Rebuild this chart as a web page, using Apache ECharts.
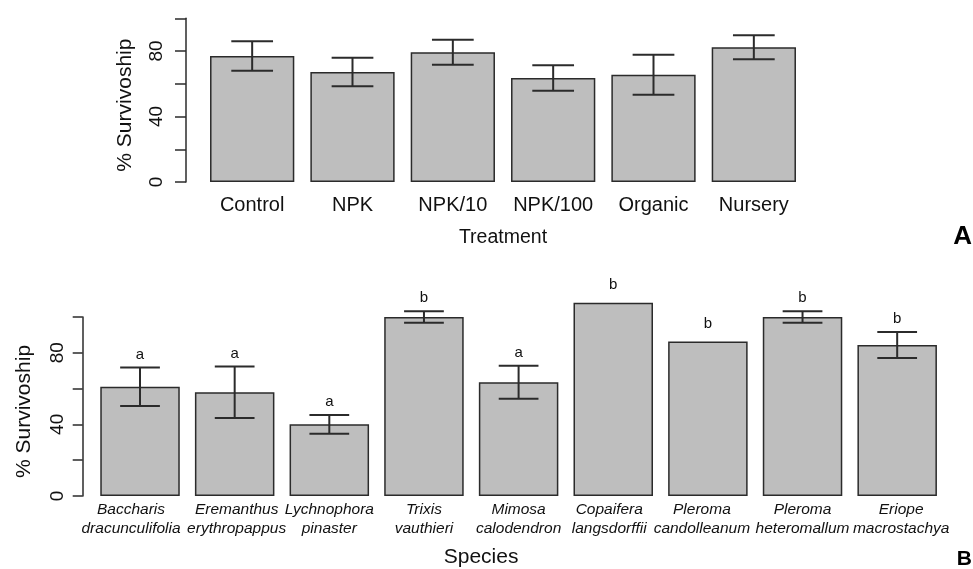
<!DOCTYPE html>
<html>
<head>
<meta charset="utf-8">
<script src="https://cdn.jsdelivr.net/npm/echarts@6/dist/echarts.min.js"></script>
<style>
html,body{margin:0;padding:0;background:#fff;}
#chart{width:973px;height:569px;}
</style>
</head>
<body>
<div id="chart"></div>
<script>
// ---- Panel A data ----
var treatments = ['Control', 'NPK', 'NPK/10', 'NPK/100', 'Organic', 'Nursery'];
var treatMeans = [77, 67.2, 79.2, 63.5, 65.5, 82.3];
var treatErr   = [9, 8.7, 7.6, 7.8, 12.2, 7.3];

// ---- Panel B data ----
var species = [
  'Baccharis\ndracunculifolia',
  'Eremanthus\nerythropappus',
  'Lychnophora\npinaster',
  'Trixis\nvauthieri',
  'Mimosa\ncalodendron',
  'Copaifera\nlangsdorffii',
  'Pleroma\ncandolleanum',
  'Pleroma\nheteromallum',
  'Eriope\nmacrostachya'
];
var speciesMeans = [61, 57.9, 40, 100, 63.5, 107.9, 86.2, 100, 84.3];
var speciesErr   = [10.8, 14.4, 5.2, 3.2, 9.2, 0, 0, 3.2, 7.3];
var speciesGroup = ['a', 'a', 'a', 'b', 'a', 'b', 'b', 'b', 'b'];

var yTicks = [0, 40, 80];

var FONT = '"Liberation Sans", Arial, Helvetica, sans-serif';
var DARK = '#2b2b2b';

function errData(means, errs) {
  return means.map(function (m, i) { return [i, m, errs[i]]; });
}

function errRender(capFrac) {
  return function (params, api) {
    var i = api.value(0), m = api.value(1), e = api.value(2);
    if (!e) return null;
    var top = api.coord([i, m + e]);
    var bot = api.coord([i, m - e]);
    var hw = api.size([1, 0])[0] * capFrac;
    var st = { stroke: DARK, lineWidth: 2 };
    return {
      type: 'group',
      children: [
        { type: 'line', shape: { x1: top[0], y1: top[1], x2: bot[0], y2: bot[1] }, style: st },
        { type: 'line', shape: { x1: top[0] - hw, y1: top[1], x2: top[0] + hw, y2: top[1] }, style: st },
        { type: 'line', shape: { x1: bot[0] - hw, y1: bot[1], x2: bot[0] + hw, y2: bot[1] }, style: st }
      ]
    };
  };
}

var letterData = speciesMeans.map(function (m, i) { return [i, m, speciesErr[i], speciesGroup[i]]; });

// label nudges (layout only)
var speciesLabelPad = [[0, 18, 0, 0], [0, 0, 0, 4], 0, 0, 0, [0, 8, 0, 0], [0, 12, 0, 0], 0, [0, 0, 0, 8]];
var speciesAxisData = species.map(function (s, i) {
  return { value: s, textStyle: { padding: speciesLabelPad[i] } };
});

function yAxisCfg(gridIndex, offset, tickLen, margin, nameGap) {
  return {
    type: 'value', gridIndex: gridIndex, min: 0, max: 100, interval: 20,
    offset: offset,
    name: '% Survivoship', nameLocation: 'middle', nameGap: nameGap, nameRotate: 90,
    nameTextStyle: { fontFamily: FONT, fontSize: 21, color: '#111', padding: [0, 10, 0, 0] },
    axisLine: { show: true, lineStyle: { color: DARK, width: 1.5 } },
    axisTick: { show: true, length: tickLen, lineStyle: { color: DARK, width: 1.5 } },
    splitLine: { show: false },
    axisLabel: {
      rotate: 90, margin: margin, fontFamily: FONT, fontSize: 19, color: '#111',
      formatter: function (v) { return yTicks.indexOf(v) >= 0 ? String(v) : ''; }
    }
  };
}

var option = {
  animation: false,
  backgroundColor: '#fff',
  grid: [
    { left: 202, width: 602, top: 18.25, height: 163.75 },
    { left: 92.7, width: 851.8, top: 316.9, height: 179.1 }
  ],
  xAxis: [
    {
      type: 'category', gridIndex: 0, data: treatments,
      axisLine: { show: false }, axisTick: { show: false },
      axisLabel: { interval: 0, margin: 13, fontFamily: FONT, fontSize: 20, lineHeight: 20, color: '#111' },
      name: 'Treatment', nameLocation: 'middle', nameGap: 46,
      nameTextStyle: { fontFamily: FONT, fontSize: 19.5, color: '#111', lineHeight: 20 }
    },
    {
      type: 'category', gridIndex: 1, data: speciesAxisData,
      axisLine: { show: false }, axisTick: { show: false },
      axisLabel: { margin: 4, fontFamily: FONT, fontSize: 15.5, fontStyle: 'italic', lineHeight: 19, color: '#111', interval: 0, hideOverlap: false },
      name: 'Species', nameLocation: 'middle', nameGap: 51,
      nameTextStyle: { fontFamily: FONT, fontSize: 21, color: '#111', lineHeight: 21, padding: [0, 75, 0, 0] }
    }
  ],
  yAxis: [
    yAxisCfg(0, 16, 11, 20, 50),
    yAxisCfg(1, 10, 10, 15, 48)
  ],
  graphic: [
    { type: 'text', right: 1, top: 224, style: { text: 'A', fontFamily: FONT, fontSize: 26, fontWeight: 'bold', fill: '#000' } },
    { type: 'text', right: 1, top: 549, style: { text: 'B', fontFamily: FONT, fontSize: 21, fontWeight: 'bold', fill: '#000' } }
  ],
  series: [
    {
      type: 'bar', xAxisIndex: 0, yAxisIndex: 0, data: treatMeans, barWidth: '84%',
      itemStyle: { color: '#bebebe', borderColor: DARK, borderWidth: 1.5 }, clip: false
    },
    {
      type: 'custom', xAxisIndex: 0, yAxisIndex: 0, data: errData(treatMeans, treatErr),
      renderItem: errRender(0.208), z: 5
    },
    {
      type: 'bar', xAxisIndex: 1, yAxisIndex: 1, data: speciesMeans, barWidth: '84%',
      itemStyle: { color: '#bebebe', borderColor: DARK, borderWidth: 1.5 }, clip: false
    },
    {
      type: 'custom', xAxisIndex: 1, yAxisIndex: 1, data: errData(speciesMeans, speciesErr),
      renderItem: errRender(0.21), z: 5
    },
    {
      type: 'custom', xAxisIndex: 1, yAxisIndex: 1, data: letterData, z: 6,
      renderItem: function (params, api) {
        var i = api.value(0), m = api.value(1), e = api.value(2);
        var p = api.coord([i, m + e]);
        var gap = e ? 13 : 18;
        return {
          type: 'text',
          style: {
            text: letterData[params.dataIndex][3], x: p[0], y: p[1] - gap,
            textAlign: 'center', textVerticalAlign: 'middle',
            fontFamily: FONT, fontSize: 15, fill: '#111'
          }
        };
      }
    }
  ]
};

var chart = echarts.init(document.getElementById('chart'), null, { renderer: 'canvas' });
chart.setOption(option);
</script>
</body>
</html>
